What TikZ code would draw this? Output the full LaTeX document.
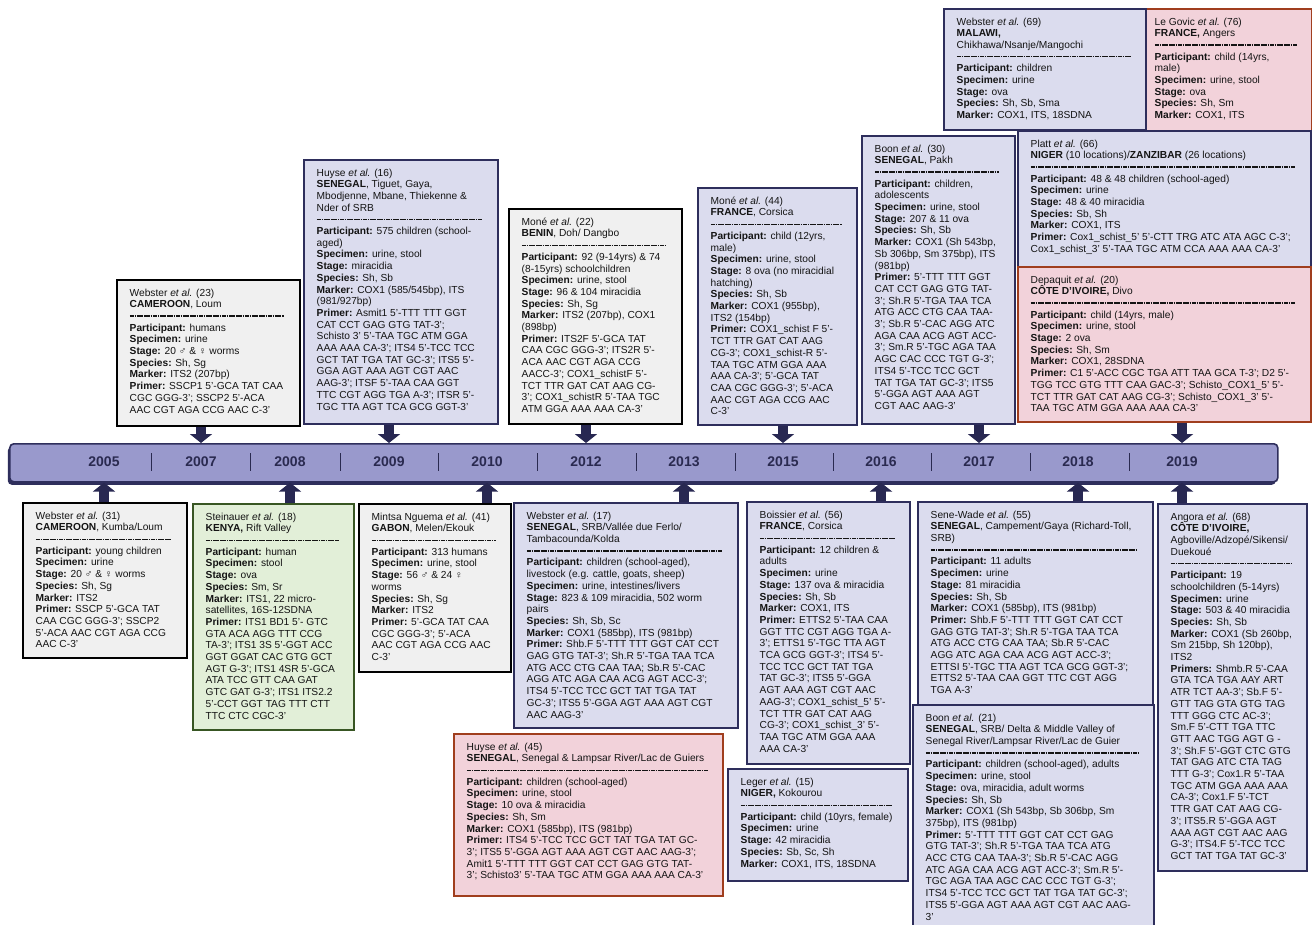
\documentclass[tikz,border=0pt]{standalone}
\usepackage{fontspec}
\setmainfont{Liberation Sans}
\usetikzlibrary{arrows.meta,shadows}
\definecolor{lav}{RGB}{219,220,238}
\definecolor{navyb}{RGB}{46,46,92}
\definecolor{grayf}{RGB}{240,240,240}
\definecolor{pinkf}{RGB}{242,210,218}
\definecolor{rust}{RGB}{160,62,30}
\definecolor{greenf}{RGB}{226,239,216}
\definecolor{dgreen}{RGB}{56,86,35}
\definecolor{barf}{RGB}{153,153,204}
\definecolor{arrowc}{RGB}{40,40,82}
\definecolor{txtc}{RGB}{20,20,20}
\definecolor{yrc}{RGB}{42,42,80}
\newcommand{\ea}{\textit{et al.}}
\newcommand{\lb}[1]{\textbf{#1}}
\newcommand{\cardsep}{\hbox to \dimexpr\cardw pt-27pt\relax{\leaders\hbox to 2.3pt{\hss\rule[2.7pt]{1.8pt}{1.3pt}\hss}\hfill}}
\newcommand{\cardbox}[7]{%
  \def\cardw{#5}%
  \node[#1, minimum width=#5pt, minimum height=#6pt] (#2) at (#3,#4) {};
  \node[txt] (#2t) at ([shift={(13.5pt,-9.5pt)}]#2.north west) {#7};
}
\tikzset{
 card/.style={draw, line width=1.5pt, inner sep=0pt, anchor=north west},
 lavc/.style={card, draw=navyb, fill=lav},
 gryc/.style={card, draw=black, fill=grayf},
 pnkc/.style={card, draw=rust, fill=pinkf},
 grnc/.style={card, draw=dgreen, fill=greenf},
 txt/.style={anchor=north west, inner sep=0pt, align=left, text=txtc, font=\fontsize{10.2}{11.7}\selectfont},
 yr/.style={font=\bfseries\fontsize{14}{15}\selectfont, text=yrc, inner sep=0pt},
 blk/.style={arrowc, line width=10pt, -{Triangle[width=22pt,length=9pt]}},
 barsep/.style={draw=yrc, line width=1pt},
}
\begin{document}
\begin{tikzpicture}[x=1pt,y=-1pt]
\fill[white] (0,0) rectangle (1312,924);
\useasboundingbox (0,0) rectangle (1312,924);

% ---------- timeline bar ----------
\node[draw=navyb, line width=1.6pt, fill=barf, rounded corners=4pt, minimum width=1268pt, minimum height=38pt, anchor=north west, inner sep=0pt, drop shadow={shadow xshift=-2pt, shadow yshift=-3pt, fill=navyb, opacity=1}] (bar) at (9,443) {};
\foreach \yy/\xx in {2005/104,2007/201,2008/290,2009/389,2010/487,2012/586,2013/684,2015/783,2016/881,2017/979,2018/1078,2019/1182}
  \node[yr] (yr\yy) at (\xx,462) {\yy};
\foreach \xx in {151,250,340,438,537,636,735,833,931,1030,1129}
  \draw[barsep] (\xx,453) -- (\xx,471);

% ---------- top cards ----------
\cardbox{gryc}{web23}{116}{279}{183}{146}{Webster \ea{} (23)\\\lb{CAMEROON}, Loum\\\cardsep\\\lb{Participant:} humans\\\lb{Specimen:} urine\\\lb{Stage:} 20 ♂ \& ♀ worms\\\lb{Species:} Sh, Sg\\\lb{Marker:} ITS2 (207bp)\\\lb{Primer:} SSCP1 5'-GCA TAT CAA\\CGC GGG-3'; SSCP2 5'-ACA\\AAC CGT AGA CCG AAC C-3'}

\cardbox{lavc}{huy16}{303}{159}{194}{264}{Huyse \ea{} (16)\\\lb{SENEGAL}, Tiguet, Gaya,\\Mbodjenne, Mbane, Thiekenne \&\\Nder of SRB\\\cardsep\\\lb{Participant:} 575 children (school-\\aged)\\\lb{Specimen:} urine, stool\\\lb{Stage:} miracidia\\\lb{Species:} Sh, Sb\\\lb{Marker:} COX1 (585/545bp), ITS\\(981/927bp)\\\lb{Primer:} Asmit1 5'-TTT TTT GGT\\CAT CCT GAG GTG TAT-3';\\Schisto 3' 5'-TAA TGC ATM GGA\\AAA AAA CA-3'; ITS4 5'-TCC TCC\\GCT TAT TGA TAT GC-3'; ITS5 5'-\\GGA AGT AAA AGT CGT AAC\\AAG-3'; ITSF 5'-TAA CAA GGT\\TTC CGT AGG TGA A-3'; ITSR 5'-\\TGC TTA AGT TCA GCG GGT-3'}

\cardbox{gryc}{mon22}{508}{208}{173}{215}{Moné \ea{} (22)\\\lb{BENIN}, Doh/ Dangbo\\\cardsep\\\lb{Participant:} 92 (9-14yrs) \& 74\\(8-15yrs) schoolchildren\\\lb{Specimen:} urine, stool\\\lb{Stage:} 96 \& 104 miracidia\\\lb{Species:} Sh, Sg\\\lb{Marker:} ITS2 (207bp), COX1\\(898bp)\\\lb{Primer:} ITS2F 5'-GCA TAT\\CAA CGC GGG-3'; ITS2R 5'-\\ACA AAC CGT AGA CCG\\AACC-3'; COX1\_schistF 5'-\\TCT TTR GAT CAT AAG CG-\\3'; COX1\_schistR 5'-TAA TGC\\ATM GGA AAA AAA CA-3'}

\cardbox{lavc}{mon44}{697}{187}{159}{237}{Moné \ea{} (44)\\\lb{FRANCE}, Corsica\\\cardsep\\\lb{Participant:} child (12yrs,\\male)\\\lb{Specimen:} urine, stool\\\lb{Stage:} 8 ova (no miracidial\\hatching)\\\lb{Species:} Sh, Sb\\\lb{Marker:} COX1 (955bp),\\ITS2 (154bp)\\\lb{Primer:} COX1\_schist F 5'-\\TCT TTR GAT CAT AAG\\CG-3'; COX1\_schist-R 5'-\\TAA TGC ATM GGA AAA\\AAA CA-3'; 5'-GCA TAT\\CAA CGC GGG-3'; 5'-ACA\\AAC CGT AGA CCG AAC\\C-3'}

\cardbox{lavc}{boo30}{861}{135}{153}{288}{Boon \ea{} (30)\\\lb{SENEGAL}, Pakh\\\cardsep\\\lb{Participant:} children,\\adolescents\\\lb{Specimen:} urine, stool\\\lb{Stage:} 207 \& 11 ova\\\lb{Species:} Sh, Sb\\\lb{Marker:} COX1 (Sh 543bp,\\Sb 306bp, Sm 375bp), ITS\\(981bp)\\\lb{Primer:} 5'-TTT TTT GGT\\CAT CCT GAG GTG TAT-\\3'; Sh.R 5'-TGA TAA TCA\\ATG ACC CTG CAA TAA-\\3'; Sb.R 5'-CAC AGG ATC\\AGA CAA ACG AGT ACC-\\3'; Sm.R 5'-TGC AGA TAA\\AGC CAC CCC TGT G-3';\\ITS4 5'-TCC TCC GCT\\TAT TGA TAT GC-3'; ITS5\\5'-GGA AGT AAA AGT\\CGT AAC AAG-3'}

\cardbox{pnkc}{gov76}{1141}{8}{170}{123}{Le Govic \ea{} (76)\\\lb{FRANCE,} Angers\\\cardsep\\\lb{Participant:} child (14yrs,\\male)\\\lb{Specimen:} urine, stool\\\lb{Stage:} ova\\\lb{Species:} Sh, Sm\\\lb{Marker:} COX1, ITS}

\cardbox{lavc}{web69}{943}{8}{202}{121}{Webster \ea{} (69)\\\lb{MALAWI,}\\Chikhawa/Nsanje/Mangochi\\\cardsep\\\lb{Participant:} children\\\lb{Specimen:} urine\\\lb{Stage:} ova\\\lb{Species:} Sh, Sb, Sma\\\lb{Marker:} COX1, ITS, 18SDNA}

\cardbox{lavc}{pla66}{1017}{130}{293}{136}{Platt \ea{} (66)\\\lb{NIGER} (10 locations)/\lb{ZANZIBAR} (26 locations)\\\cardsep\\\lb{Participant:} 48 \& 48 children (school-aged)\\\lb{Specimen:} urine\\\lb{Stage:} 48 \& 40 miracidia\\\lb{Species:} Sb, Sh\\\lb{Marker:} COX1, ITS\\\lb{Primer:} Cox1\_schist\_5' 5'-CTT TRG ATC ATA AGC C-3';\\Cox1\_schist\_3' 5'-TAA TGC ATM CCA AAA AAA CA-3'}

\cardbox{pnkc}{dep20}{1017}{266}{293}{155}{Depaquit \ea{} (20)\\\lb{CÔTE D'IVOIRE,} Divo\\\cardsep\\\lb{Participant:} child (14yrs, male)\\\lb{Specimen:} urine, stool\\\lb{Stage:} 2 ova\\\lb{Species:} Sh, Sm\\\lb{Marker:} COX1, 28SDNA\\\lb{Primer:} C1 5'-ACC CGC TGA ATT TAA GCA T-3'; D2 5'-\\TGG TCC GTG TTT CAA GAC-3'; Schisto\_COX1\_5' 5'-\\TCT TTR GAT CAT AAG CG-3'; Schisto\_COX1\_3' 5'-\\TAA TGC ATM GGA AAA AAA CA-3'}

% ---------- bottom cards ----------
\cardbox{gryc}{web31}{22}{502}{164}{155}{Webster \ea{} (31)\\\lb{CAMEROON}, Kumba/Loum\\\cardsep\\\lb{Participant:} young children\\\lb{Specimen:} urine\\\lb{Stage:} 20 ♂ \& ♀ worms\\\lb{Species:} Sh, Sg\\\lb{Marker:} ITS2\\\lb{Primer:} SSCP 5'-GCA TAT\\CAA CGC GGG-3'; SSCP2\\5'-ACA AAC CGT AGA CCG\\AAC C-3'}

\cardbox{grnc}{ste18}{192}{503}{161}{226}{Steinauer \ea{} (18)\\\lb{KENYA,} Rift Valley\\\cardsep\\\lb{Participant:} human\\\lb{Specimen:} stool\\\lb{Stage:} ova\\\lb{Species:} Sm, Sr\\\lb{Marker:} ITS1, 22 micro-\\satellites, 16S-12SDNA\\\lb{Primer:} ITS1 BD1 5'- GTC\\GTA ACA AGG TTT CCG\\TA-3'; ITS1 3S 5'-GGT ACC\\GGT GGAT CAC GTG GCT\\AGT G-3'; ITS1 4SR 5'-GCA\\ATA TCC GTT CAA GAT\\GTC GAT G-3'; ITS1 ITS2.2\\5'-CCT GGT TAG TTT CTT\\TTC CTC CGC-3'}

\cardbox{gryc}{min41}{358}{503}{152}{168}{Mintsa Nguema \ea{} (41)\\\lb{GABON}, Melen/Ekouk\\\cardsep\\\lb{Participant:} 313 humans\\\lb{Specimen:} urine, stool\\\lb{Stage:} 56 ♂ \& 24 ♀\\worms\\\lb{Species:} Sh, Sg\\\lb{Marker:} ITS2\\\lb{Primer:} 5'-GCA TAT CAA\\CGC GGG-3'; 5'-ACA\\AAC CGT AGA CCG AAC\\C-3'}

\cardbox{lavc}{web17}{513}{502}{224}{225}{Webster \ea{} (17)\\\lb{SENEGAL}, SRB/Vallée due Ferlo/\\Tambacounda/Kolda\\\cardsep\\\lb{Participant:} children (school-aged),\\livestock (e.g. cattle, goats, sheep)\\\lb{Specimen:} urine, intestines/livers\\\lb{Stage:} 823 \& 109 miracidia, 502 worm\\pairs\\\lb{Species:} Sh, Sb, Sc\\\lb{Marker:} COX1 (585bp), ITS (981bp)\\\lb{Primer:} Shb.F 5'-TTT TTT GGT CAT CCT\\GAG GTG TAT-3'; Sh.R 5'-TGA TAA TCA\\ATG ACC CTG CAA TAA; Sb.R 5'-CAC\\AGG ATC AGA CAA ACG AGT ACC-3';\\ITS4 5'-TCC TCC GCT TAT TGA TAT\\GC-3'; ITS5 5'-GGA AGT AAA AGT CGT\\AAC AAG-3'}

\cardbox{lavc}{boi56}{746}{501}{163}{262}{Boissier \ea{} (56)\\\lb{FRANCE}, Corsica\\\cardsep\\\lb{Participant:} 12 children \&\\adults\\\lb{Specimen:} urine\\\lb{Stage:} 137 ova \& miracidia\\\lb{Species:} Sh, Sb\\\lb{Marker:} COX1, ITS\\\lb{Primer:} ETTS2 5'-TAA CAA\\GGT TTC CGT AGG TGA A-\\3'; ETTS1 5'-TGC TTA AGT\\TCA GCG GGT-3'; ITS4 5'-\\TCC TCC GCT TAT TGA\\TAT GC-3'; ITS5 5'-GGA\\AGT AAA AGT CGT AAC\\AAG-3'; COX1\_schist\_5' 5'-\\TCT TTR GAT CAT AAG\\CG-3'; COX1\_schist\_3' 5'-\\TAA TGC ATM GGA AAA\\AAA CA-3'}

\cardbox{pnkc}{huy45}{453}{733}{269}{162}{Huyse \ea{} (45)\\\lb{SENEGAL}, Senegal \& Lampsar River/Lac de Guiers\\\cardsep\\\lb{Participant:} children (school-aged)\\\lb{Specimen:} urine, stool\\\lb{Stage:} 10 ova \& miracidia\\\lb{Species:} Sh, Sm\\\lb{Marker:} COX1 (585bp), ITS (981bp)\\\lb{Primer:} ITS4 5'-TCC TCC GCT TAT TGA TAT GC-\\3'; ITS5 5'-GGA AGT AAA AGT CGT AAC AAG-3';\\Amit1 5'-TTT TTT GGT CAT CCT GAG GTG TAT-\\3'; Schisto3' 5'-TAA TGC ATM GGA AAA AAA CA-3'}

\cardbox{lavc}{leg15}{727}{768}{180}{112}{Leger \ea{} (15)\\\lb{NIGER,} Kokourou\\\cardsep\\\lb{Participant:} child (10yrs, female)\\\lb{Specimen:} urine\\\lb{Stage:} 42 miracidia\\\lb{Species:} Sb, Sc, Sh\\\lb{Marker:} COX1, ITS, 18SDNA}

\cardbox{lavc}{sen55}{917}{501}{235}{203}{Sene-Wade \ea{} (55)\\\lb{SENEGAL}, Campement/Gaya (Richard-Toll,\\SRB)\\\cardsep\\\lb{Participant:} 11 adults\\\lb{Specimen:} urine\\\lb{Stage:} 81 miracidia\\\lb{Species:} Sh, Sb\\\lb{Marker:} COX1 (585bp), ITS (981bp)\\\lb{Primer:} Shb.F 5'-TTT TTT GGT CAT CCT\\GAG GTG TAT-3'; Sh.R 5'-TGA TAA TCA\\ATG ACC CTG CAA TAA; Sb.R 5'-CAC\\AGG ATC AGA CAA ACG AGT ACC-3';\\ETTSI 5'-TGC TTA AGT TCA GCG GGT-3';\\ETTS2 5'-TAA CAA GGT TTC CGT AGG\\TGA A-3'}

\cardbox{lavc}{boo21}{912}{704}{241}{232}{Boon \ea{} (21)\\\lb{SENEGAL}, SRB/ Delta \& Middle Valley of\\Senegal River/Lampsar River/Lac de Guier\\\cardsep\\\lb{Participant:} children (school-aged), adults\\\lb{Specimen:} urine, stool\\\lb{Stage:} ova, miracidia, adult worms\\\lb{Species:} Sh, Sb\\\lb{Marker:} COX1 (Sh 543bp, Sb 306bp, Sm\\375bp), ITS (981bp)\\\lb{Primer:} 5'-TTT TTT GGT CAT CCT GAG\\GTG TAT-3'; Sh.R 5'-TGA TAA TCA ATG\\ACC CTG CAA TAA-3'; Sb.R 5'-CAC AGG\\ATC AGA CAA ACG AGT ACC-3'; Sm.R 5'-\\TGC AGA TAA AGC CAC CCC TGT G-3';\\ITS4 5'-TCC TCC GCT TAT TGA TAT GC-3';\\ITS5 5'-GGA AGT AAA AGT CGT AAC AAG-\\3'}

\cardbox{lavc}{ang68}{1157}{503}{149}{367}{Angora \ea{} (68)\\\lb{CÔTE D'IVOIRE,}\\Agboville/Adzopé/Sikensi/\\Duekoué\\\cardsep\\\lb{Participant:} 19\\schoolchildren (5-14yrs)\\\lb{Specimen:} urine\\\lb{Stage:} 503 \& 40 miracidia\\\lb{Species:} Sh, Sb\\\lb{Marker:} COX1 (Sb 260bp,\\Sm 215bp, Sh 120bp),\\ITS2\\\lb{Primers:} Shmb.R 5'-CAA\\GTA TCA TGA AAY ART\\ATR TCT AA-3'; Sb.F 5'-\\GTT TAG GTA GTG TAG\\TTT GGG CTC AC-3';\\Sm.F 5'-CTT TGA TTC\\GTT AAC TGG AGT G -\\3'; Sh.F 5'-GGT CTC GTG\\TAT GAG ATC CTA TAG\\TTT G-3'; Cox1.R 5'-TAA\\TGC ATM GGA AAA AAA\\CA-3'; Cox1.F 5'-TCT\\TTR GAT CAT AAG CG-\\3'; ITS5.R 5'-GGA AGT\\AAA AGT CGT AAC AAG\\G-3'; ITS4.F 5'-TCC TCC\\GCT TAT TGA TAT GC-3'}

% ---------- arrows to the timeline ----------
\draw[blk] (yr2007 |- web23.south) -- (yr2007 |- bar.north);
\draw[blk] (yr2009 |- huy16.south) -- (yr2009 |- bar.north);
\draw[blk] (yr2012 |- mon22.south) -- (yr2012 |- bar.north);
\draw[blk] (yr2015 |- mon44.south) -- (yr2015 |- bar.north);
\draw[blk] (yr2017 |- boo30.south) -- (yr2017 |- bar.north);
\draw[blk] (yr2019 |- dep20.south) -- (yr2019 |- bar.north);
\draw[blk] (yr2005 |- web31.north) -- (yr2005 |- bar.south);
\draw[blk] (yr2008 |- ste18.north) -- (yr2008 |- bar.south);
\draw[blk] (yr2010 |- min41.north) -- (yr2010 |- bar.south);
\draw[blk] (yr2013 |- web17.north) -- (yr2013 |- bar.south);
\draw[blk] (yr2016 |- boi56.north) -- (yr2016 |- bar.south);
\draw[blk] (yr2018 |- sen55.north) -- (yr2018 |- bar.south);
\draw[blk] (yr2019 |- ang68.north) -- (yr2019 |- bar.south);
\end{tikzpicture}
\end{document}
